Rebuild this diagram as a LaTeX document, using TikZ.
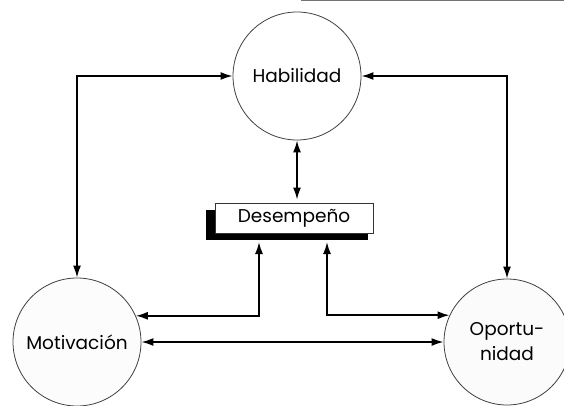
\documentclass[tikz,border=0pt]{standalone}
\usepackage{fontspec}
\setmainfont{Poppins}
\usetikzlibrary{arrows.meta,calc}
\begin{document}
\begin{tikzpicture}[x=1pt,y=-1pt,
  circ/.style={circle,draw=black!75,line width=0.8pt,inner sep=0pt,minimum size=#1,font=\fontsize{18.5}{25}\selectfont,align=center},
  conn/.style={line width=1.7pt,{Latex[length=12pt,width=8pt]}-{Latex[length=12pt,width=8pt]}},
  boxst/.style={rectangle,draw=black!80,line width=0.8pt,fill=white,minimum width=158pt,minimum height=30pt,inner sep=0pt,font=\fontsize{18.5}{22}\selectfont}
]
\useasboundingbox (0,0) rectangle (564,406);
\draw[black!55,line width=1.2pt] (301,0.6) -- (564,0.6);
\node[circ=128pt] (hab) at (297,76) {Habilidad};
\node[circ=128pt,fill=black!1] (mot) at (77,342) {Motivación};
\node[circ=126pt,fill=black!1.5] (opp) at (507,342) {Oportu-\\nidad};
\fill[black] (206,210) rectangle (368,240);
\node[boxst] (box) at (294,218) {Desempeño};
\coordinate (bl) at (259,242);
\coordinate (br) at (327,242);
\draw[conn] (mot.north) |- (hab.west);
\draw[conn] (hab.east) -| (opp.north);
\draw[conn,shorten >=3pt] (hab.south) -- (hab.south |- box.north);
\draw[conn] (mot.24) -| (bl);
\draw[conn] (br) |- (opp.155);
\draw[conn] (mot.east) -- (opp.west);
\end{tikzpicture}
\end{document}
